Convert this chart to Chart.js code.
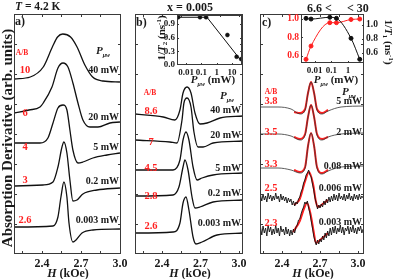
<!DOCTYPE html>
<html>
<head>
<meta charset="utf-8">
<script src="https://cdn.jsdelivr.net/npm/chart.js"></script>
<style>
  body { margin: 0; width: 395px; height: 279px; background: #fff; position: relative; overflow: hidden;
         font-family: "Liberation Serif", "Times New Roman", serif; font-weight: bold; color: #1a1a1a; }
  canvas { position: absolute; top: 0; }
  .lb { position: absolute; white-space: nowrap; line-height: 1; }
  .red { color: #ff2020; }
  .sub { font-size: 6px; font-style: italic; position: relative; top: 3px; }
  .s7 { font-size: 7px; position: relative; }
</style>
</head>
<body>
<canvas id="pa" width="135" height="279" style="left:0"></canvas>
<canvas id="pb" width="122" height="279" style="left:128px"></canvas>
<canvas id="pc" width="125" height="279" style="left:253px"></canvas>
<canvas id="ib" width="95" height="95" style="left:150px"></canvas>
<canvas id="ic" width="109" height="95" style="left:275px"></canvas>
<div id="labels"></div>
<script>
// panel a) field H (kOe) and derivative signal (arb. units), offset per trace
const a40H = [2.19, 2.31, 2.41, 2.48, 2.52, 2.56, 2.62, 2.67, 2.73, 2.79, 2.87, 3.0];
const a40Y = [175, 177, 187, 207, 217, 220, 217, 207, 189, 177, 173, 172];
const a20H = [2.185, 2.30, 2.385, 2.41, 2.477, 2.523, 2.562, 2.60, 2.638, 2.677, 2.715, 2.769, 2.831, 2.923, 3.0];
const a20Y = [141, 144, 147, 151, 167, 186, 191, 187, 171, 151, 134, 127, 127, 131, 132];
const a5H = [2.19, 2.385, 2.446, 2.485, 2.523, 2.562, 2.592, 2.615, 2.638, 2.677, 2.715, 2.792, 2.90, 3.0];
const a5Y = [111, 111, 116, 131, 146, 149, 144, 124, 104, 91, 92, 96, 99, 101];
const a02H = [2.19, 2.408, 2.485, 2.523, 2.554, 2.569, 2.592, 2.615, 2.638, 2.669, 2.715, 2.823, 3.0];
const a02Y = [68, 69, 72, 87, 107, 112, 101, 74, 53, 54, 60, 64, 66];
const a0003H = [2.19, 2.485, 2.523, 2.546, 2.569, 2.592, 2.608, 2.638, 2.662, 2.708, 2.792, 3.0];
const a0003Y = [27, 28, 37, 57, 72, 57, 31, 12, 14, 21, 24, 25];

// panel b) x = 0.005
const b40H = [2.19, 2.41, 2.50, 2.54, 2.564, 2.595, 2.626, 2.657, 2.696, 2.751, 2.852, 3.03];
const b40Y = [140, 137, 134, 144, 161, 167, 161, 141, 130, 131, 136, 138];
const b20H = [2.19, 2.462, 2.517, 2.556, 2.571, 2.595, 2.626, 2.649, 2.681, 2.72, 2.798, 3.03];
const b20Y = [114, 112, 111, 134, 151, 156, 147, 122, 107, 107, 111, 113];
const b5H = [2.19, 2.486, 2.54, 2.564, 2.587, 2.61, 2.642, 2.673, 2.712, 2.798, 3.03];
const b5Y = [84, 84, 94, 114, 122, 114, 87, 74, 76, 79, 81];
const b02H = [2.19, 2.486, 2.532, 2.564, 2.579, 2.603, 2.634, 2.657, 2.696, 2.798, 3.03];
const b02Y = [58, 59, 67, 87, 94, 84, 57, 46, 47, 52, 54];
const b0003H = [2.19, 2.486, 2.54, 2.564, 2.587, 2.61, 2.642, 2.665, 2.712, 2.829, 3.03];
const b0003Y = [21, 22, 31, 51, 57, 44, 17, 10, 12, 19, 21];

// panel c) measured (black) and fitted (red)
const c5H = [2.225, 2.368, 2.471, 2.542, 2.582, 2.605, 2.629, 2.653, 2.676, 2.716, 2.763, 2.866, 3.045];
const c5Y = [147, 147, 145, 140, 144, 161, 172, 161, 144, 140, 143, 147, 148];
const c2Y = [120, 120, 118, 114, 119, 137, 149, 137, 119, 114, 117, 120, 121];
const c008Y = [86, 86, 84, 81, 86, 108, 121, 108, 86, 80, 83, 87, 88];
const fitCH = [2.495, 2.542, 2.582, 2.605, 2.629, 2.653, 2.676, 2.716, 2.763];
const fitC5 = [142, 141, 145, 161, 172, 161, 145, 141, 144];
const fitC2 = [117, 115, 120, 137, 149, 137, 120, 115, 117];
const fitC008 = [84, 82, 87, 108, 121, 108, 87, 81, 84];
const noiseH = [2.23, 2.24, 2.25, 2.26, 2.27, 2.28, 2.29, 2.30, 2.31, 2.32, 2.33, 2.34, 2.35, 2.36, 2.37,
  2.38, 2.39, 2.40, 2.41, 2.42, 2.43, 2.44, 2.45, 2.46, 2.47, 2.48, 2.49, 2.50, 2.51, 2.52, 2.53, 2.54,
  2.55, 2.56, 2.57, 2.58, 2.59, 2.60, 2.61, 2.62, 2.63, 2.64, 2.65, 2.66, 2.67, 2.68, 2.69, 2.70, 2.71,
  2.72, 2.73, 2.74, 2.75, 2.76, 2.77, 2.78, 2.79, 2.80, 2.81, 2.82, 2.83, 2.84, 2.85, 2.86, 2.87, 2.88,
  2.89, 2.90, 2.91, 2.92, 2.93, 2.94, 2.95, 2.96, 2.97, 2.98, 2.99, 3.00, 3.01, 3.02, 3.03, 3.04];
const c006Y = [59, 53, 60, 54, 58, 52, 61, 55, 59, 53, 58, 54, 61, 55, 58, 52, 60, 54, 58, 53,
  57, 51, 56, 52, 55, 49, 53, 48, 52, 50, 55, 57, 62, 65, 71, 74, 79, 81, 84, 79,
  77, 70, 64, 56, 51, 45, 49, 46, 50, 47, 53, 49, 55, 51, 57, 52, 58, 53, 60, 54,
  59, 53, 61, 55, 58, 54, 60, 53, 59, 55, 61, 54, 58, 53, 60, 55, 59, 54, 60, 55, 58, 56];
const c0003Y = [27, 19, 28, 21, 26, 18, 29, 22, 27, 19, 25, 20, 29, 21, 26, 18, 28, 22, 25, 19,
  27, 20, 25, 18, 24, 19, 25, 21, 27, 29, 34, 35, 40, 44, 47, 52, 50, 53, 46, 41,
  33, 26, 18, 13, 9, 14, 10, 15, 12, 18, 14, 21, 16, 23, 18, 26, 19, 27, 21, 28,
  20, 26, 22, 29, 21, 27, 19, 26, 23, 28, 20, 27, 22, 29, 21, 26, 20, 27, 23, 28, 21, 25];
const fit006H = [2.495, 2.54, 2.58, 2.613, 2.645, 2.668, 2.684, 2.72, 2.763];
const fit006Y = [49, 55, 72, 82, 70, 52, 47, 50, 54];
const fit0003H = [2.487, 2.54, 2.575, 2.597, 2.625, 2.65, 2.668, 2.70, 2.763];
const fit0003Y = [22, 33, 46, 51, 40, 22, 11, 14, 21];

// insets: 1/T2 and 1/T1 vs microwave power (mW)
const rateBP = [0.003, 0.08, 0.2, 5, 20, 40];
const rateBY = [1.05, 1.05, 1.05, 0.66, 0.18, 0.13];
const fitBP = [0.003, 0.23, 45];
const fitBY = [1.05, 1.05, 0.07];
const rateCP = [0.003, 0.006, 0.08, 0.2, 1.5, 5];
const invT2C = [0.56, 0.705, 0.96, 0.96, 0.995, 1.0];
const invT1C = [1.095, 1.085, 1.11, 1.095, 0.81, 0.51];

const powersA = ['40 mW', '20 mW', '5 mW', '0.2 mW', '0.003 mW'];
const ratiosA = ['10', '6', '4', '3', '2.6'];
const powersB = ['40 mW', '20 mW', '5 mW', '0.2 mW', '0.003 mW'];
const ratiosB = ['8.6', '7', '4.5', '2.8', '2.6'];
const powersC = ['5 mW', '2 mW', '0.08 mW', '0.006 mW', '0.003 mW'];
const ratiosC = ['3.8', '3.5', '3.3', '2.5', '2.3'];

const FONT = '"Liberation Serif", "Times New Roman", serif';
const RED = '#ff2020';
const INK = '#1a1a1a';
const pts = (hs, ys) => hs.map((h, i) => ({ x: h, y: ys[i] }));
const curve = (hs, ys, color, w) => ({ data: pts(hs, ys), showLine: true, borderColor: color, borderWidth: w,
  pointRadius: 0, cubicInterpolationMode: 'monotone' });
const noisy = (hs, ys) => ({ data: pts(hs, ys), showLine: true, borderColor: '#111', borderWidth: 0.9,
  pointRadius: 0, tension: 0 });

// box + inward ticks
function makeFrame(cfg) {
  return {
    id: 'frame',
    afterDatasetsDraw(chart) {
      const { ctx, chartArea: a, scales } = chart;
      ctx.save();
      ctx.strokeStyle = '#3a3a3a';
      ctx.lineWidth = 1;
      ctx.strokeRect(Math.round(a.left) + 0.5, Math.round(a.top) + 0.5, Math.round(a.width) - 1, Math.round(a.height) - 1);
      ctx.beginPath();
      const decade = (s, v) => s.type !== 'logarithmic' || Math.abs(Math.log10(v) - Math.round(Math.log10(v))) < 1e-6;
      cfg.x.forEach(id => {
        const s = scales[id];
        s.ticks.forEach(t => {
          if (!decade(s, t.value)) return;
          const p = Math.round(s.getPixelForValue(t.value)) + 0.5;
          if (p < a.left + 2 || p > a.right - 2) return;
          ctx.moveTo(p, a.bottom); ctx.lineTo(p, a.bottom - cfg.len);
          if (cfg.top) { ctx.moveTo(p, a.top); ctx.lineTo(p, a.top + cfg.len); }
        });
      });
      const yt = (id, left) => {
        const s = scales[id];
        s.ticks.forEach(t => {
          const p = Math.round(s.getPixelForValue(t.value)) + 0.5;
          if (p < a.top + 2 || p > a.bottom - 2) return;
          const x0 = left ? a.left : a.right;
          ctx.moveTo(x0, p); ctx.lineTo(left ? x0 + cfg.len : x0 - cfg.len, p);
        });
      };
      cfg.yl.forEach(id => yt(id, true));
      cfg.yr.forEach(id => yt(id, false));
      ctx.stroke();
      ctx.restore();
    }
  };
}

const font = size => ({ family: FONT, weight: 'bold', size });
const bare = { grid: { display: false, drawTicks: false }, border: { display: false } };

function mainChart(id, xMin, xMax, padL, padR, sets) {
  return new Chart(document.getElementById(id), {
    type: 'scatter',
    data: { datasets: sets },
    options: {
      responsive: false,
      animation: false,
      layout: { padding: { left: padL, right: padR, top: 14, bottom: 3 }, autoPadding: false },
      plugins: { legend: { display: false }, tooltip: { enabled: false } },
      scales: {
        x: {
          type: 'linear', min: xMin, max: xMax, ...bare,
          afterFit: s => { s.height = 22; },
          ticks: {
            stepSize: 0.15, includeBounds: false, autoSkip: false, maxRotation: 0, padding: 3,
            color: INK, font: font(12),
            callback: v => Math.abs(v / 0.3 - Math.round(v / 0.3)) < 1e-6 ? v.toFixed(1) : ''
          }
        },
        y: { display: false, min: 0, max: 240, ticks: { stepSize: 30 } }
      }
    },
    plugins: [makeFrame({ len: 3, top: true, x: ['x'], yl: ['y'], yr: ['y'] })]
  });
}

mainChart('pa', 2.185, 3.008, 14, 14, [
  curve(a40H, a40Y, '#111', 1.3), curve(a20H, a20Y, '#111', 1.3), curve(a5H, a5Y, '#111', 1.3),
  curve(a02H, a02Y, '#111', 1.3), curve(a0003H, a0003Y, '#111', 1.3)
]);
mainChart('pb', 2.19, 3.031, 7, 7, [
  curve(b40H, b40Y, '#111', 1.3), curve(b20H, b20Y, '#111', 1.3), curve(b5H, b5Y, '#111', 1.3),
  curve(b02H, b02Y, '#111', 1.3), curve(b0003H, b0003Y, '#111', 1.3)
]);
mainChart('pc', 2.226, 3.047, 7, 14, [
  curve(c5H, c5Y, '#333', 0.8), curve(c5H, c2Y, '#333', 0.8), curve(c5H, c008Y, '#333', 0.8),
  noisy(noiseH, c006Y), noisy(noiseH, c0003Y),
  curve(fitCH, fitC5, RED, 2), curve(fitCH, fitC2, RED, 2), curve(fitCH, fitC008, RED, 2),
  curve(fit006H, fit006Y, RED, 2), curve(fit0003H, fit0003Y, RED, 2)
]);

const logTick = v => {
  const l = Math.log10(v);
  return Math.abs(l - Math.round(l)) < 1e-6 ? String(+v.toPrecision(1)) : '';
};
const logX = (min, max) => ({
  type: 'logarithmic', min, max, ...bare,
  afterFit: s => { s.height = 14; },
  ticks: { autoSkip: false, maxRotation: 0, padding: 2, color: INK, font: font(9), callback: logTick }
});

new Chart(document.getElementById('ib'), {
  type: 'scatter',
  data: { datasets: [
    { data: pts(fitBP, fitBY), showLine: true, borderColor: '#111', borderWidth: 1, pointRadius: 0 },
    { data: pts(rateBP, rateBY), pointRadius: 2, backgroundColor: '#111', borderColor: '#111', borderWidth: 0.5 }
  ] },
  options: {
    responsive: false,
    animation: false,
    layout: { padding: { left: 0, right: 3, top: 15, bottom: 16 }, autoPadding: false },
    plugins: { legend: { display: false }, tooltip: { enabled: false } },
    scales: {
      x: logX(0.0025, 45),
      y: {
        min: 0, max: 1.1, ...bare,
        afterFit: s => { s.width = 27; },
        ticks: { stepSize: 0.3, includeBounds: false, padding: 2, color: INK, font: font(9), callback: v => v.toFixed(1) }
      }
    }
  },
  plugins: [makeFrame({ len: 2, x: ['x'], yl: ['y'], yr: ['y'] })]
});

new Chart(document.getElementById('ic'), {
  type: 'scatter',
  data: { datasets: [
    { data: pts(rateCP, invT1C), yAxisID: 'y2', showLine: true, borderColor: '#111', borderWidth: 1,
      cubicInterpolationMode: 'monotone', pointRadius: 2, backgroundColor: '#111' },
    { data: pts(rateCP, invT2C), yAxisID: 'y', showLine: true, borderColor: RED, borderWidth: 1,
      cubicInterpolationMode: 'monotone', pointRadius: 2, backgroundColor: RED }
  ] },
  options: {
    responsive: false,
    animation: false,
    layout: { padding: { left: 0, right: 0, top: 14, bottom: 18 }, autoPadding: false },
    plugins: { legend: { display: false }, tooltip: { enabled: false } },
    scales: {
      x: logX(0.0015, 9),
      y: {
        position: 'left', min: 0.52, max: 1.055, ...bare,
        afterFit: s => { s.width = 26; },
        ticks: { stepSize: 0.2, includeBounds: false, padding: 2, color: RED, font: font(9.5), callback: v => v.toFixed(1) }
      },
      y2: {
        position: 'right', min: 0.457, max: 1.157, ...bare,
        afterFit: s => { s.width = 20; },
        ticks: { stepSize: 0.2, includeBounds: false, padding: 2, color: INK, font: font(9.5), callback: v => v.toFixed(1) }
      }
    }
  },
  plugins: [makeFrame({ len: 2, x: ['x'], yl: ['y'], yr: ['y2'] })]
});

// text
const box = document.getElementById('labels');
function put(html, x, y, size, align, cls, rot) {
  const d = document.createElement('div');
  d.className = 'lb' + (cls ? ' ' + cls : '');
  d.innerHTML = html;
  d.style.left = x + 'px';
  d.style.top = y + 'px';
  d.style.fontSize = size + 'px';
  const tx = align === 'l' ? '0' : align === 'r' ? '-100%' : '-50%';
  d.style.transform = `translate(${tx},-50%)` + (rot ? ` rotate(${rot}deg)` : '');
  box.appendChild(d);
}
const Pmw = '<i>P</i><span class="sub">&mu;w</span>';

put('<i>T</i> = 4.2 K', 15, 7, 11.5, 'l');
put('x = 0.005', 190, 7, 12, 'c');
put('6.6 &lt;', 307, 8, 12, 'l');
put('&lt; 30', 347, 8, 12, 'l');
put('a)', 15, 21, 12, 'l');
put('b)', 136, 22, 12, 'l');
put('c)', 262, 22, 12, 'l');
put('Absorption Derivative (arb. units)', 7, 138, 15, 'c', '', -90);
put('<i>H</i> (kOe)', 68, 273, 12, 'c');
put('<i>H</i> (kOe)', 190, 273, 12, 'c');
put('<i>H</i> (kOe)', 313, 273, 12, 'c');

put('A/B', 22, 53, 7.5, 'c', 'red');
put(Pmw, 103, 50, 11, 'c');
[70, 113, 147, 180, 220].forEach((y, i) => put(ratiosA[i], 25, y, 10.5, 'c', 'red'));
[70, 117, 147, 181, 220].forEach((y, i) => put(powersA[i], 119, y, 10, 'r'));

put('A/B', 150, 93, 7.5, 'c', 'red');
put(Pmw, 227, 95, 11, 'c');
[111, 142, 168, 196, 226].forEach((y, i) => put(ratiosB[i], 151, y, 10.5, 'c', 'red'));
[110, 135, 168, 193, 223].forEach((y, i) => put(powersB[i], 241, y, 10, 'r'));
put(Pmw + ' (mW)', 213, 79, 11, 'c');
put('1/<i>T</i><span class="s7" style="top:2px">2</span> (ns<span class="s7" style="top:-4px">-1</span>)', 161, 38, 11, 'c', '', -90);

put('A/B', 271, 92, 7.5, 'c', 'red');
put(Pmw, 349, 91, 11, 'c');
[101, 132, 164, 188, 223].forEach((y, i) => put(ratiosC[i], 271, y, 10.5, 'c', 'red'));
[101, 132, 166, 188, 222].forEach((y, i) => put(powersC[i], 362, y, 10, 'r'));
put(Pmw + ' (mW)', 336, 79, 11, 'c');
put('1/<i>T</i><span class="s7" style="top:2px">1</span> (ns<span class="s7" style="top:-4px">-1</span>)', 388, 42, 11, 'c', '', 90);
</script>
</body>
</html>
